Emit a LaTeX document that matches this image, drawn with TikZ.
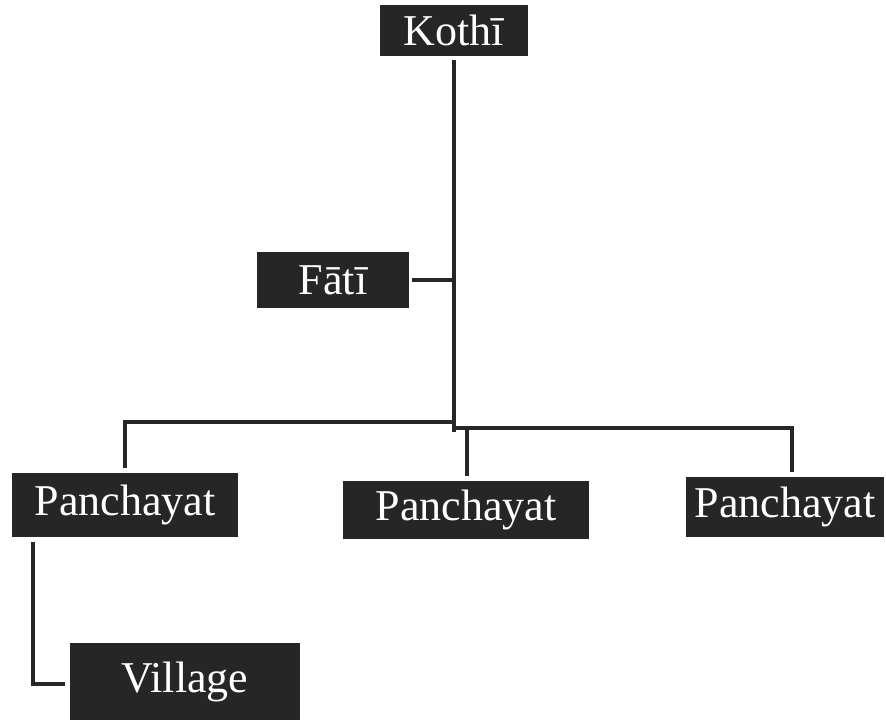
\documentclass[tikz,border=0pt]{standalone}
\usepackage{fontspec}
\setmainfont{Liberation Serif}
\usepackage{tikz}
\usetikzlibrary{calc,positioning}
\definecolor{boxgray}{HTML}{262626}

\begin{document}
\begin{tikzpicture}[x=1pt, y=-1pt, conn/.style={draw=boxgray, line width=3.5pt}]
\tikzstyle{lvl}=[rectangle, fill=boxgray, text=white, inner sep=0pt, font=\fontsize{44}{50}\selectfont]
\useasboundingbox (0,0) rectangle (886,723);
\node[lvl, minimum width=148pt, minimum height=51pt] (kothi) at (454,30.5) {Kothī};
\node[lvl, minimum width=152pt, minimum height=56pt] (fati) at (333,280) {Fātī};
\node[lvl, minimum width=226pt, minimum height=64pt] (panA) at (125,505) {Panchayat};
\node[lvl, minimum width=246pt, minimum height=58pt] (panB) at (466,510) {Panchayat};
\node[lvl, minimum width=198pt, minimum height=60pt] (panC) at (785,507) {Panchayat};
\node[lvl, minimum width=230pt, minimum height=77pt] (vill) at (185,681.5) {Village};
\coordinate (jend) at (455,432);
\coordinate (jleft) at (455,422);
\coordinate (jright) at (455,428);
\coordinate (jmid) at (467,428);
% trunk and branches
\draw[conn, shorten <=4pt] (kothi.south) -- (kothi.south |- jend);
\draw[conn, shorten <=3pt] (fati.east) -- (fati.east -| jend);
\draw[conn, shorten >=5pt] (jleft) -| (panA.north);
\draw[conn, shorten >=5pt] (jright) -| ([xshift=7pt]panC.north);
\draw[conn, shorten >=5pt] (jmid) -- (jmid |- panB.north);
\draw[conn, shorten <=5pt, shorten >=5pt] ([xshift=21pt]panA.south west) |- ([yshift=-2.5pt]vill.west);
\end{tikzpicture}
\end{document}
